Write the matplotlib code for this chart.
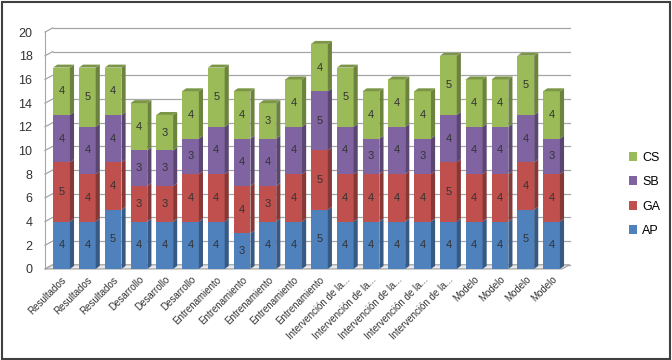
import matplotlib
matplotlib.use("Agg")
import matplotlib.pyplot as plt
import numpy as np
from matplotlib.patches import Polygon, Rectangle
from matplotlib.colors import to_rgb

# Datos
categorias = (["Resultados"] * 3 + ["Desarrollo"] * 3 + ["Entrenamiento"] * 5
              + ["Intervención de la..."] * 5 + ["Modelo"] * 4)
series = ["AP", "GA", "SB", "CS"]
ap = [4, 4, 5, 4, 4, 4, 4, 3, 4, 4, 5, 4, 4, 4, 4, 4, 4, 4, 5, 4]
ga = [5, 4, 4, 3, 3, 4, 4, 4, 3, 4, 5, 4, 4, 4, 4, 5, 4, 4, 4, 4]
sb = [4, 4, 4, 3, 3, 3, 4, 4, 4, 4, 5, 4, 3, 4, 3, 4, 4, 4, 4, 3]
cs = [4, 5, 4, 4, 3, 4, 5, 4, 3, 4, 4, 5, 4, 4, 4, 5, 4, 4, 5, 4]
ticks_y = [0, 2, 4, 6, 8, 10, 12, 14, 16, 18, 20]

colores = {"AP": "#4F81BD", "GA": "#C0504D", "SB": "#8064A2", "CS": "#9BBB59"}

plt.rcParams['font.family'] = ['Liberation Sans', 'DejaVu Sans']

fig = plt.figure(figsize=(6.72, 3.6), dpi=100)
ax = fig.add_axes([0.067, 0.253, 0.781, 0.658])

x = np.arange(len(categorias))
w = 0.65
dx, dy = 0.16, 0.25


def shade(c, f):
    r, g, b = to_rgb(c)
    return (r * f, g * f, b * f)


# lineas de cuadricula en la pared del fondo
for t in ticks_y:
    ax.plot([-0.64 + 0.3, 19.71], [t + 0.35, t + 0.35], color="#a6a6a6", lw=0.9, zorder=0,
            clip_on=False)
    ax.plot([-0.64, -0.64 + 0.3], [t, t + 0.35], color="#a6a6a6", lw=0.9, zorder=0,
            clip_on=False)
# suelo
ax.add_patch(Polygon([(-0.64, 0), (19.4, 0), (19.71, 0.35), (-0.34, 0.35)],
                     closed=True, facecolor="#e8e8e8", edgecolor="#a6a6a6", lw=0.9,
                     zorder=0.5, clip_on=False))

datos = {"AP": ap, "GA": ga, "SB": sb, "CS": cs}
bottom = np.zeros(len(categorias))
for s in series:
    vals = np.array(datos[s], dtype=float)
    col = colores[s]
    ax.bar(x, vals, w, bottom=bottom, color=col, label=s, zorder=3, linewidth=0)
    for xi, b, v in zip(x, bottom, vals):
        xr = xi + w / 2
        ax.add_patch(Polygon([(xr, b), (xr + dx, b + dy), (xr + dx, b + v + dy), (xr, b + v)],
                             closed=True, facecolor=shade(col, 0.7), lw=0, zorder=3))
        ax.text(xi, b + v / 2, str(int(v)), ha="center", va="center", fontsize=8,
                color="#333333", zorder=5)
    bottom = bottom + vals

# tapas superiores
for xi, top in zip(x, bottom):
    xl, xr = xi - w / 2, xi + w / 2
    ax.add_patch(Polygon([(xl, top), (xl + dx, top + dy), (xr + dx, top + dy), (xr, top)],
                         closed=True, facecolor=shade(colores["CS"], 0.8), lw=0, zorder=4))

ax.set_xlim(-0.64, 19.71)
ax.set_ylim(0, 20)
ax.set_yticks(ticks_y)
ax.tick_params(axis="y", length=0, pad=9, labelsize=9, labelcolor="#333333")
ax.set_xticks(x)
ax.set_xticklabels(categorias, rotation=45, ha="right", rotation_mode="anchor",
                   fontsize=7, color="#333333")
ax.tick_params(axis="x", length=0, pad=4)
for sp in ["top", "right", "bottom"]:
    ax.spines[sp].set_visible(False)
ax.spines["left"].set_color("#a6a6a6")
ax.set_facecolor("none")

handles, labels = ax.get_legend_handles_labels()
fig.legend(handles[::-1], labels[::-1], loc="center left", bbox_to_anchor=(0.928, 0.46),
           frameon=False, fontsize=9, handlelength=0.7, handleheight=0.7,
           handletextpad=0.4, labelspacing=1.0, borderaxespad=0)

fig.patches.append(Rectangle((0.003, 0.004), 0.994, 0.99, transform=fig.transFigure,
                             fill=False, edgecolor="#404040", lw=1.5))

fig.savefig("out.png", dpi=100)
